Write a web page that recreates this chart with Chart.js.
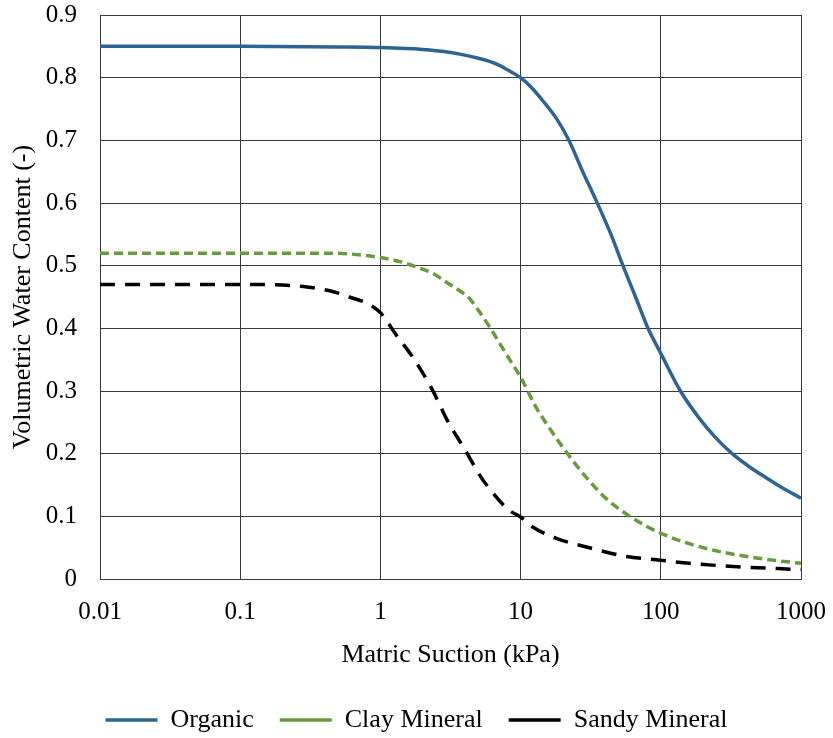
<!DOCTYPE html>
<html>
<head>
<meta charset="utf-8">
<script src="https://cdn.jsdelivr.net/npm/chart.js@4.4.1/dist/chart.umd.min.js"></script>
<style>
  html, body { margin: 0; padding: 0; background: #fff; }
  #wrap { width: 833px; height: 738px; }
</style>
</head>
<body>
<div id="wrap"><canvas id="chart"></canvas></div>
<script>
// values (suction kPa, water content)
const organicSuction = [0.01, 0.1, 0.5, 1, 2, 3, 4, 5, 6, 7, 8, 10, 12, 14.3, 18, 22.1, 27.5, 35.2, 43.9, 53.7, 66.1, 80, 100, 138, 186, 245, 323, 423, 560, 730, 1000];
const organicWater = [0.85, 0.85, 0.849, 0.848, 0.845, 0.841, 0.836, 0.831, 0.826, 0.82, 0.813, 0.80, 0.784, 0.764, 0.735, 0.70, 0.652, 0.60, 0.551, 0.50, 0.45, 0.403, 0.36, 0.30, 0.258, 0.226, 0.20, 0.18, 0.162, 0.146, 0.129];

const claySuction = [0.01, 0.1, 0.43, 1, 1.4, 1.8, 2.4, 2.94, 3.57, 4.3, 5.25, 6.1, 7.84, 10, 12.9, 15.6, 21.6, 30, 40, 60, 100, 200, 500, 1000];
const clayWater = [0.52, 0.52, 0.52, 0.513, 0.506, 0.498, 0.487, 0.474, 0.462, 0.448, 0.422, 0.40, 0.36, 0.322, 0.274, 0.245, 0.20, 0.16, 0.13, 0.10, 0.073, 0.05, 0.033, 0.025];

const sandySuction = [0.01, 0.1, 0.2, 0.3, 0.47, 0.6, 0.8, 1, 1.3, 1.7, 2.36, 3.0, 3.97, 5.2, 6.2, 7.4, 8.5, 10, 12.2, 18, 32, 57, 99, 160, 327, 1000];
const sandyWater = [0.47, 0.47, 0.469, 0.466, 0.458, 0.45, 0.44, 0.425, 0.389, 0.354, 0.301, 0.253, 0.208, 0.163, 0.14, 0.12, 0.108, 0.099, 0.083, 0.065, 0.049, 0.036, 0.030, 0.025, 0.02, 0.015];

const xTicks = [0.01, 0.1, 1, 10, 100, 1000];
const yTicks = [0, 0.1, 0.2, 0.3, 0.4, 0.5, 0.6, 0.7, 0.8, 0.9];

const toPoints = (xs, ys) => xs.map((x, i) => ({ x: x, y: ys[i] }));

const serif = "'Liberation Serif', 'Times New Roman', serif";
const gridColor = "#3a3a3a";

new Chart(document.getElementById("chart").getContext("2d"), {
  type: "line",
  data: {
    datasets: [
      {
        label: "Organic",
        data: toPoints(organicSuction, organicWater),
        borderColor: "#2e6494",
        backgroundColor: "#2e6494",
        borderWidth: 3.5,
        pointRadius: 0,
        cubicInterpolationMode: "monotone",
      },
      {
        label: "Clay Mineral",
        data: toPoints(claySuction, clayWater),
        borderColor: "#699a3e",
        backgroundColor: "#699a3e",
        borderWidth: 3.5,
        borderDash: [9, 5],
        pointRadius: 0,
        cubicInterpolationMode: "monotone",
      },
      {
        label: "Sandy Mineral",
        data: toPoints(sandySuction, sandyWater),
        borderColor: "#000000",
        backgroundColor: "#000000",
        borderWidth: 3.5,
        borderDash: [15, 10],
        pointRadius: 0,
        cubicInterpolationMode: "monotone",
      },
    ],
  },
  options: {
    responsive: true,
    maintainAspectRatio: false,
    animation: false,
    layout: { padding: { top: 15, right: 0, bottom: -5, left: 0 } },
    plugins: {
      tooltip: { enabled: false },
      legend: {
        position: "bottom",
        labels: {
          color: "#000",
          font: { family: serif, size: 26 },
          usePointStyle: true,
          pointStyle: "line",
          pointStyleWidth: 52,
          padding: 26,
        },
      },
    },
    scales: {
      x: {
        type: "logarithmic",
        min: 0.01,
        max: 1000,
        afterBuildTicks: (scale) => {
          scale.ticks = xTicks.map((v) => ({ value: v }));
        },
        afterFit: (scale) => {
          scale.height = 102;
          scale.paddingLeft = 0;
          scale.paddingRight = 32;
        },
        ticks: {
          color: "#000",
          font: { family: serif, size: 25 },
          padding: 18,
          maxRotation: 0,
          callback: (v) => String(v),
        },
        grid: { color: gridColor, lineWidth: 1, drawTicks: false },
        border: { color: gridColor, width: 1 },
        title: {
          display: true,
          text: "Matric Suction (kPa)",
          color: "#000",
          font: { family: serif, size: 26 },
          padding: { top: 0, bottom: 10 },
        },
      },
      y: {
        min: 0,
        max: 0.9,
        afterBuildTicks: (scale) => {
          scale.ticks = yTicks.map((v) => ({ value: v }));
        },
        afterFit: (scale) => {
          scale.width = 100;
          scale.paddingTop = 0;
          scale.paddingBottom = 0;
        },
        ticks: {
          color: "#000",
          font: { family: serif, size: 25 },
          padding: 23,
          callback: (v) => String(Math.round(v * 10) / 10),
        },
        grid: { color: gridColor, lineWidth: 1, drawTicks: false },
        border: { color: gridColor, width: 1 },
        title: {
          display: true,
          text: "Volumetric Water Content (-)",
          color: "#000",
          font: { family: serif, size: 26 },
          padding: { top: 8, bottom: 0 },
        },
      },
    },
  },
});
</script>
</body>
</html>
